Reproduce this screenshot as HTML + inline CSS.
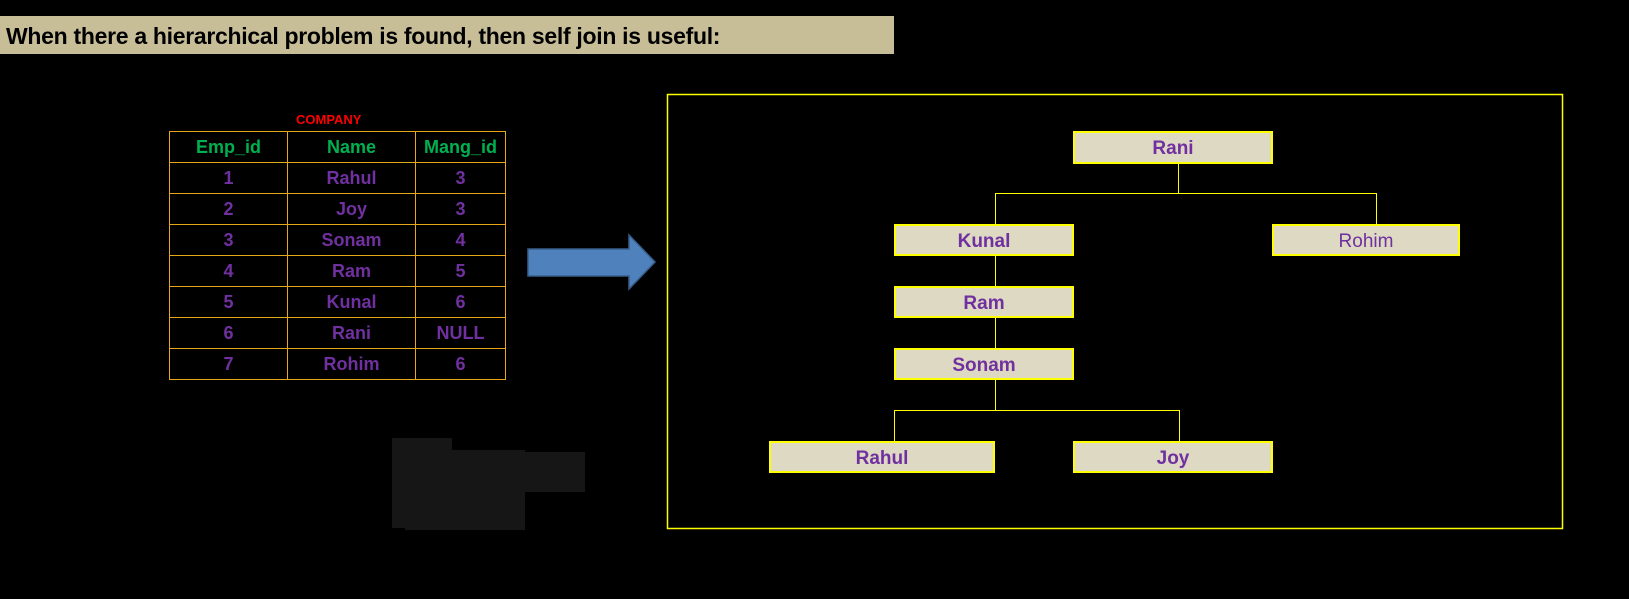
<!DOCTYPE html>
<html><head><meta charset="utf-8"><style>
body{margin:0;width:1629px;height:599px;background:#000;overflow:hidden;position:relative;font-family:"Liberation Sans",sans-serif;}
.hdr{position:absolute;left:0;top:16px;width:894px;height:38px;background:#c7be98;}
.hdr span{position:absolute;left:6px;top:7px;font-size:23px;font-weight:bold;color:#000;letter-spacing:-0.3px;}
.cap{position:absolute;left:296px;top:112px;font-size:13px;font-weight:bold;color:#ff0000;}
table{position:absolute;left:169px;top:131px;border-collapse:collapse;}
td{border:1px solid #e6a817;height:30px;padding:0;text-align:center;font-weight:bold;font-size:18px;color:#7030a0;}
tr:first-child td{color:#00b050;}
.n{position:absolute;background:#ddd9c3;border:2px solid #ffff00;box-sizing:border-box;color:#7030a0;font-weight:bold;font-size:19px;text-align:center;line-height:31px;}
.l{position:absolute;background:#ffff00;}
</style></head><body>
<div class="hdr"><span>When there a hierarchical problem is found, then self join is useful:</span></div>
<div class="cap">COMPANY</div>
<table>
<tr><td style="width:117px">Emp_id</td><td style="width:127px">Name</td><td style="width:89px">Mang_id</td></tr>
<tr><td>1</td><td>Rahul</td><td>3</td></tr>
<tr><td>2</td><td>Joy</td><td>3</td></tr>
<tr><td>3</td><td>Sonam</td><td>4</td></tr>
<tr><td>4</td><td>Ram</td><td>5</td></tr>
<tr><td>5</td><td>Kunal</td><td>6</td></tr>
<tr><td>6</td><td>Rani</td><td>NULL</td></tr>
<tr><td>7</td><td>Rohim</td><td>6</td></tr>
</table>
<svg style="position:absolute;left:0;top:0" width="1629" height="599">
<polygon points="528,249 629,249 629,235 655,262 629,289 629,276 528,276" fill="#4f81bd" stroke="#385d8a" stroke-width="1.5"/>
<rect x="667.5" y="94.5" width="895" height="434" fill="none" stroke="#ffff00" stroke-width="1.5"/>
<g fill="#161616"><rect x="392" y="438" width="60" height="90"/><rect x="405" y="450" width="120" height="80"/><rect x="520" y="452" width="65" height="40"/></g>
</svg>
<div class="l" style="left:1178px;top:163px;width:1px;height:30px"></div>
<div class="l" style="left:995px;top:193px;width:382px;height:1px"></div>
<div class="l" style="left:995px;top:193px;width:1px;height:31px"></div>
<div class="l" style="left:1376px;top:193px;width:1px;height:31px"></div>
<div class="l" style="left:995px;top:256px;width:1px;height:30px"></div>
<div class="l" style="left:995px;top:318px;width:1px;height:30px"></div>
<div class="l" style="left:995px;top:380px;width:1px;height:30px"></div>
<div class="l" style="left:894px;top:410px;width:286px;height:1px"></div>
<div class="l" style="left:894px;top:410px;width:1px;height:31px"></div>
<div class="l" style="left:1179px;top:410px;width:1px;height:31px"></div>
<div class="n" style="left:1073px;top:131px;width:200px;height:33px">Rani</div>
<div class="n" style="left:894px;top:224px;width:180px;height:32px">Kunal</div>
<div class="n" style="left:1272px;top:224px;width:188px;height:32px;font-weight:normal">Rohim</div>
<div class="n" style="left:894px;top:286px;width:180px;height:32px">Ram</div>
<div class="n" style="left:894px;top:348px;width:180px;height:32px">Sonam</div>
<div class="n" style="left:769px;top:441px;width:226px;height:32px">Rahul</div>
<div class="n" style="left:1073px;top:441px;width:200px;height:32px">Joy</div>
</body></html>
